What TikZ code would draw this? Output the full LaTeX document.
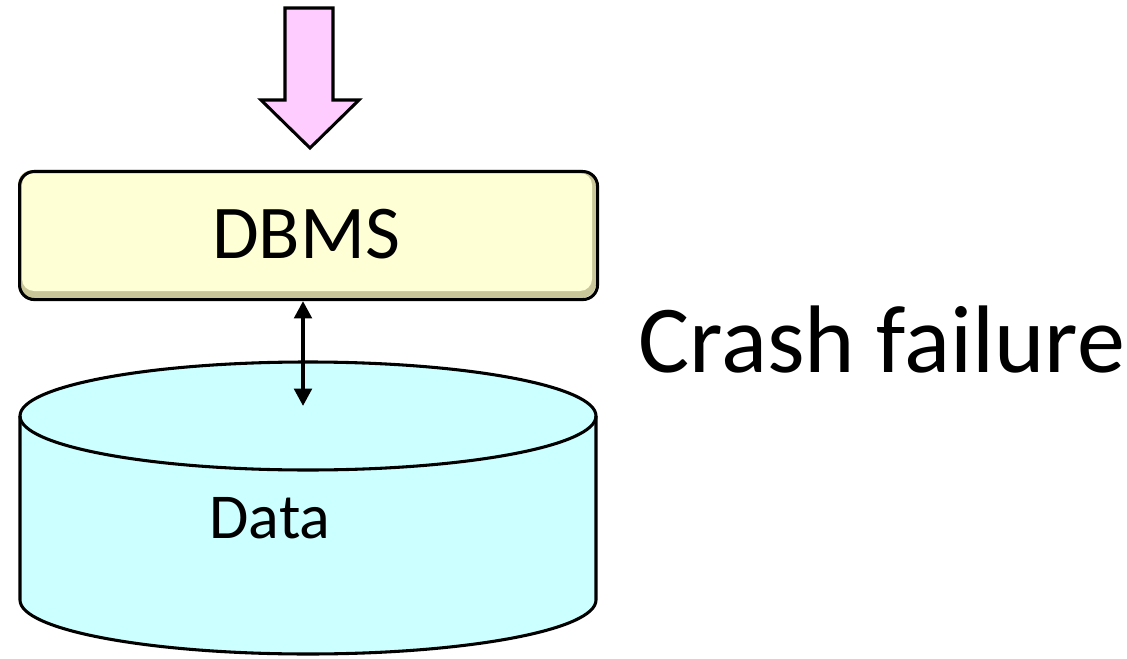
\documentclass[tikz,border=0pt]{standalone}
\usepackage{fontspec}
\setmainfont{Carlito}
\usetikzlibrary{arrows.meta}
\definecolor{boxfill}{HTML}{FFFFD6}
\definecolor{boxedge}{HTML}{C9C79A}
\definecolor{diskfill}{HTML}{CCFFFF}
\definecolor{pinkfill}{HTML}{FFCCFF}
\tikzset{
  outline/.style={draw=black, line width=2.3pt},
  link/.style={line width=3pt, {Triangle[length=13pt,width=13pt]}-{Triangle[length=13pt,width=13pt]}},
}
\begin{document}
\begin{tikzpicture}[x=0.75pt, y=-0.75pt]
\useasboundingbox (0,0) rectangle (1127,659);

% input arrow coming down into the DBMS
\draw[outline, fill=pinkfill, line join=miter]
  (285,8) -- (333,8) -- (333,100) -- (359,100) -- (310,148) -- (261,100) -- (285,100) -- cycle;

% DBMS box with a bevelled face
\fill[boxedge, rounded corners=11pt] (18,170) rectangle (596,298);
\fill[boxfill, rounded corners=9pt] (22,173) rectangle (592,291);
\node[outline, rounded corners=11pt, minimum width=578*0.75pt, minimum height=128*0.75pt,
      inner sep=0pt, anchor=north west] (dbms) at (18,170) {};
\node[font=\fontsize{57pt}{57pt}\selectfont, anchor=base] (dbmslabel) at (306,258) {DBMS};

% disk holding the data
\draw[outline, fill=diskfill] (20,416) -- (20,600) arc[start angle=180, end angle=0, x radius=288, y radius=54]
  -- (596,416) arc[start angle=0, end angle=-180, x radius=288, y radius=54] -- cycle;
\draw[outline] (20,416) arc[start angle=180, end angle=0, x radius=288, y radius=54];
\node[font=\fontsize{48pt}{48pt}\selectfont, anchor=base] (data) at (270,538) {Data};
\coordinate (disktop) at (303,406);

% link between the DBMS and the disk
\draw[link] (dbms.south -| disktop) -- (disktop);

\node[font=\fontsize{72pt}{72pt}\selectfont, anchor=base west] (crash) at (634,372) {Crash failure};
\end{tikzpicture}
\end{document}
